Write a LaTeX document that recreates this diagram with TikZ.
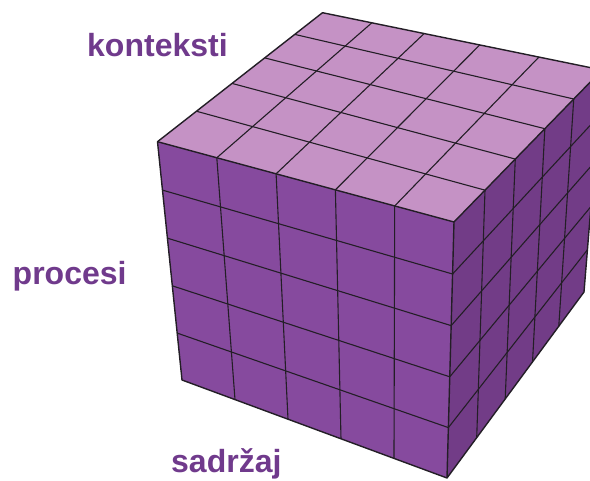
\documentclass[tikz,border=0pt]{standalone}
\usepackage{fontspec}
\setmainfont{Liberation Sans}
\definecolor{frontc}{RGB}{134,74,158}
\definecolor{rightc}{RGB}{114,60,135}
\definecolor{topc}{RGB}{197,146,197}
\definecolor{textc}{RGB}{112,58,140}
\definecolor{linec}{RGB}{35,30,38}
% cube vertices (x, y in pixels from top-left, z = relative depth)
\def\vAx{157.5}\def\vAy{141.7}\def\vAz{1}
\def\vBx{454}\def\vBy{222}\def\vBz{1}
\def\vDx{182}\def\vDy{380}\def\vDz{1.02}
\def\vEx{447}\def\vEy{478}\def\vEz{1.02}
\def\vFx{322.5}\def\vFy{12.7}\def\vFz{1.236}
\def\vGx{602}\def\vGy{70}\def\vGz{1.06}
\def\vHx{584}\def\vHy{292}\def\vHz{1.13}
% perspective-correct point on a face: #1 name, #2..#5 corners (00,10,01,11), #6 u, #7 v
\newcommand\gridpt[7]{%
  \pgfmathsetmacro\gpwa{(1-#6)*(1-#7)*\csname v#2z\endcsname}%
  \pgfmathsetmacro\gpwb{(#6)*(1-#7)*\csname v#3z\endcsname}%
  \pgfmathsetmacro\gpwc{(1-#6)*(#7)*\csname v#4z\endcsname}%
  \pgfmathsetmacro\gpwd{(#6)*(#7)*\csname v#5z\endcsname}%
  \pgfmathsetmacro\gpsum{\gpwa+\gpwb+\gpwc+\gpwd}%
  \pgfmathsetmacro\gpx{(\gpwa*\csname v#2x\endcsname+\gpwb*\csname v#3x\endcsname+\gpwc*\csname v#4x\endcsname+\gpwd*\csname v#5x\endcsname)/\gpsum}%
  \pgfmathsetmacro\gpy{(\gpwa*\csname v#2y\endcsname+\gpwb*\csname v#3y\endcsname+\gpwc*\csname v#4y\endcsname+\gpwd*\csname v#5y\endcsname)/\gpsum}%
  \coordinate (#1) at (\gpx,\gpy);%
}
% draw the 5x5 grid of a face
\newcommand\facegrid[4]{%
  \foreach \i in {1,...,4}{%
    \pgfmathsetmacro\gt{\i/5}%
    \gridpt{g1}{#1}{#2}{#3}{#4}{\gt}{0}%
    \gridpt{g2}{#1}{#2}{#3}{#4}{\gt}{1}%
    \draw[gridline] (g1) -- (g2);
    \gridpt{g3}{#1}{#2}{#3}{#4}{0}{\gt}%
    \gridpt{g4}{#1}{#2}{#3}{#4}{1}{\gt}%
    \draw[gridline] (g3) -- (g4);
  }%
}
\tikzset{
  gridline/.style={draw=linec, line width=1.1pt},
  edgeline/.style={draw=linec, line width=1.4pt, line join=round},
  label/.style={text=textc, font=\fontsize{32}{38}\selectfont\bfseries, inner sep=0pt}
}
\begin{document}
\begin{tikzpicture}[x=1pt,y=-1pt]
\useasboundingbox (0,0) rectangle (590,481);
\fill[white] (0,0) rectangle (590,481);
\clip (0,0) rectangle (590,481);
\coordinate (A) at (\vAx,\vAy);
\coordinate (B) at (\vBx,\vBy);
\coordinate (D) at (\vDx,\vDy);
\coordinate (E) at (\vEx,\vEy);
\coordinate (F) at (\vFx,\vFy);
\coordinate (G) at (\vGx,\vGy);
\coordinate (H) at (\vHx,\vHy);
% faces
\fill[topc] (A) -- (B) -- (G) -- (F) -- cycle;
\fill[frontc] (A) -- (B) -- (E) -- (D) -- cycle;
\fill[rightc] (B) -- (G) -- (H) -- (E) -- cycle;
% grids
\facegrid{A}{B}{F}{G}
\facegrid{A}{B}{D}{E}
\facegrid{B}{G}{E}{H}
% outer edges
\draw[edgeline] (A) -- (F) -- (G) -- (H) -- (E) -- (D) -- cycle;
\draw[edgeline] (A) -- (B) -- (E);
\draw[edgeline] (B) -- (G);
% labels
\node[label, anchor=base west] (kont) at (87,56.5) {konteksti};
\node[label, anchor=base west] (proc) at (12.5,285) {procesi};
\node[label, anchor=base west] (sadr) at (171,472) {sadržaj};
\end{tikzpicture}
\end{document}
